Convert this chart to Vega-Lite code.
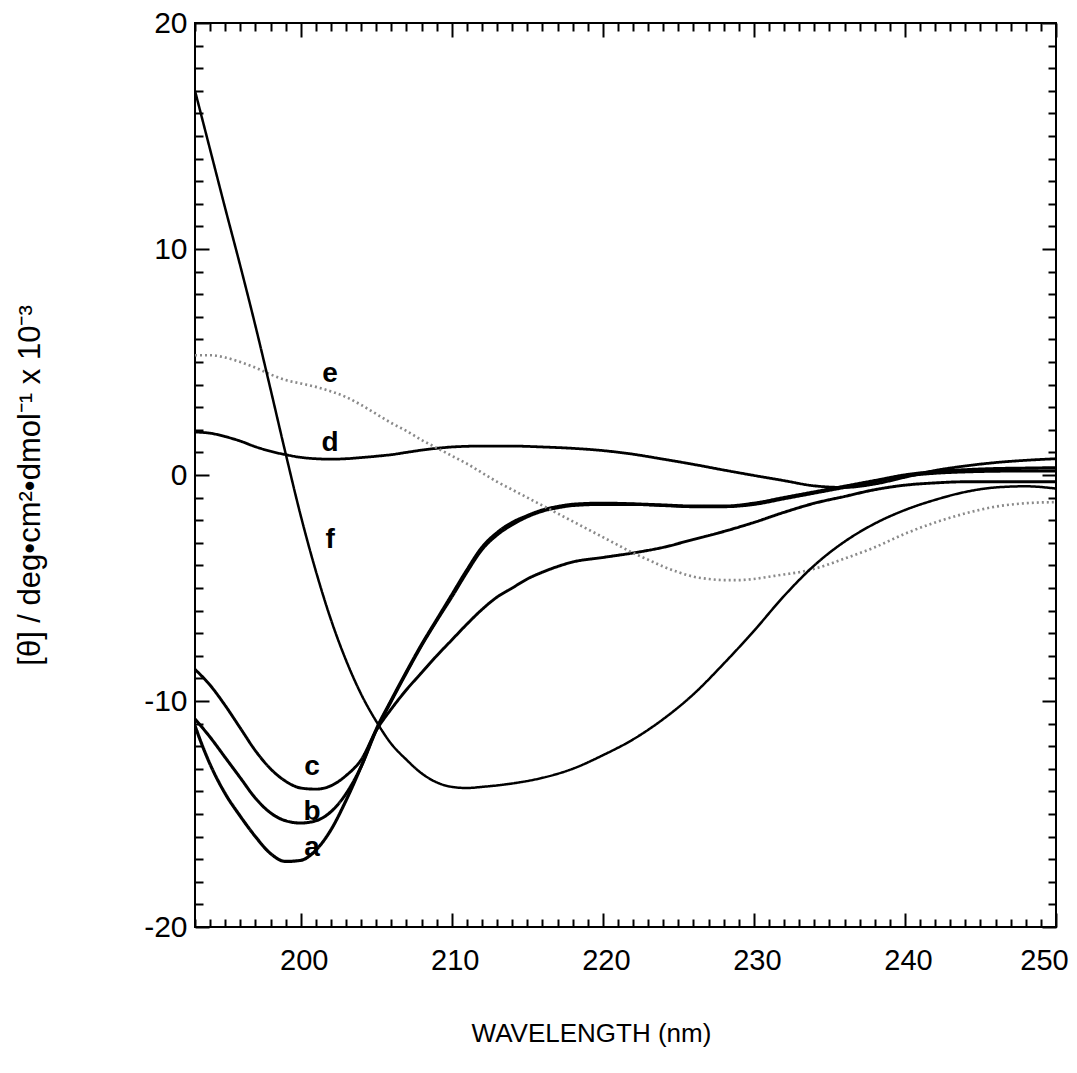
{
  "$schema": "https://vega.github.io/schema/vega-lite/v6.json",
  "autosize": {"type": "none"},
  "width": 861,
  "height": 904,
  "padding": {"left": 195, "top": 23, "right": 21, "bottom": 146},
  "background": "white",
  "config": {
    "view": {"stroke": "black", "strokeWidth": 2},
    "font": "Liberation Sans",
    "axis": {"domain": false, "grid": false, "tickColor": "black", "tickWidth": 2, "labelColor": "black", "titleColor": "black", "labelFont": "Liberation Sans", "titleFont": "Liberation Sans", "titleFontWeight": "normal", "labelOverlap": false, "labelFlush": false}
  },
  "datasets": {
    "curves": [
      {"s":"a","x":193,"y":-11.1},{"s":"a","x":193.5,"y":-12.0},{"s":"a","x":194,"y":-12.8},{"s":"a","x":195,"y":-14.1},{"s":"a","x":196,"y":-15.1},{"s":"a","x":197,"y":-16.0},{"s":"a","x":198,"y":-16.75},{"s":"a","x":199,"y":-17.1},{"s":"a","x":200,"y":-17.05},{"s":"a","x":201,"y":-16.6},{"s":"a","x":202,"y":-15.7},{"s":"a","x":203,"y":-14.4},{"s":"a","x":204,"y":-12.9},{"s":"a","x":205,"y":-11.25},{"s":"a","x":206,"y":-9.95},{"s":"a","x":207,"y":-8.7},{"s":"a","x":208,"y":-7.5},{"s":"a","x":209,"y":-6.4},{"s":"a","x":210,"y":-5.3},{"s":"a","x":211,"y":-4.2},{"s":"a","x":212,"y":-3.2},{"s":"a","x":213,"y":-2.55},{"s":"a","x":214,"y":-2.1},{"s":"a","x":215,"y":-1.8},{"s":"a","x":216,"y":-1.55},{"s":"a","x":217,"y":-1.4},{"s":"a","x":218,"y":-1.3},{"s":"a","x":220,"y":-1.25},{"s":"a","x":222,"y":-1.28},{"s":"a","x":224,"y":-1.33},{"s":"a","x":226,"y":-1.38},{"s":"a","x":228,"y":-1.38},{"s":"a","x":230,"y":-1.25},{"s":"a","x":232,"y":-1.0},{"s":"a","x":234,"y":-0.75},{"s":"a","x":236,"y":-0.5},{"s":"a","x":238,"y":-0.25},{"s":"a","x":240,"y":0.0},{"s":"a","x":242,"y":0.15},{"s":"a","x":244,"y":0.23},{"s":"a","x":246,"y":0.28},{"s":"a","x":248,"y":0.3},{"s":"a","x":250,"y":0.32},
      {"s":"b","x":193,"y":-10.8},{"s":"b","x":194,"y":-11.6},{"s":"b","x":195,"y":-12.5},{"s":"b","x":196,"y":-13.4},{"s":"b","x":197,"y":-14.3},{"s":"b","x":198,"y":-14.95},{"s":"b","x":199,"y":-15.3},{"s":"b","x":200,"y":-15.4},{"s":"b","x":201,"y":-15.3},{"s":"b","x":202,"y":-14.9},{"s":"b","x":203,"y":-14.1},{"s":"b","x":204,"y":-12.9},{"s":"b","x":205,"y":-11.3},{"s":"b","x":206,"y":-10.0},{"s":"b","x":207,"y":-8.75},{"s":"b","x":208,"y":-7.55},{"s":"b","x":209,"y":-6.45},{"s":"b","x":210,"y":-5.4},{"s":"b","x":211,"y":-4.3},{"s":"b","x":212,"y":-3.3},{"s":"b","x":213,"y":-2.65},{"s":"b","x":214,"y":-2.2},{"s":"b","x":215,"y":-1.85},{"s":"b","x":216,"y":-1.6},{"s":"b","x":217,"y":-1.45},{"s":"b","x":218,"y":-1.35},{"s":"b","x":220,"y":-1.3},{"s":"b","x":222,"y":-1.3},{"s":"b","x":224,"y":-1.35},{"s":"b","x":226,"y":-1.4},{"s":"b","x":228,"y":-1.4},{"s":"b","x":230,"y":-1.3},{"s":"b","x":232,"y":-1.05},{"s":"b","x":234,"y":-0.8},{"s":"b","x":236,"y":-0.55},{"s":"b","x":238,"y":-0.3},{"s":"b","x":240,"y":-0.05},{"s":"b","x":242,"y":0.08},{"s":"b","x":244,"y":0.14},{"s":"b","x":246,"y":0.17},{"s":"b","x":248,"y":0.18},{"s":"b","x":250,"y":0.18},
      {"s":"c","x":193,"y":-8.6},{"s":"c","x":194,"y":-9.3},{"s":"c","x":195,"y":-10.2},{"s":"c","x":196,"y":-11.2},{"s":"c","x":197,"y":-12.2},{"s":"c","x":198,"y":-13.0},{"s":"c","x":199,"y":-13.55},{"s":"c","x":200,"y":-13.85},{"s":"c","x":201,"y":-13.9},{"s":"c","x":202,"y":-13.75},{"s":"c","x":203,"y":-13.3},{"s":"c","x":204,"y":-12.6},{"s":"c","x":205,"y":-11.3},{"s":"c","x":206,"y":-10.35},{"s":"c","x":207,"y":-9.5},{"s":"c","x":208,"y":-8.75},{"s":"c","x":209,"y":-8.0},{"s":"c","x":210,"y":-7.3},{"s":"c","x":211,"y":-6.6},{"s":"c","x":212,"y":-5.95},{"s":"c","x":213,"y":-5.4},{"s":"c","x":214,"y":-5.0},{"s":"c","x":215,"y":-4.6},{"s":"c","x":216,"y":-4.3},{"s":"c","x":217,"y":-4.05},{"s":"c","x":218,"y":-3.85},{"s":"c","x":220,"y":-3.65},{"s":"c","x":222,"y":-3.45},{"s":"c","x":224,"y":-3.2},{"s":"c","x":226,"y":-2.85},{"s":"c","x":228,"y":-2.5},{"s":"c","x":230,"y":-2.1},{"s":"c","x":232,"y":-1.65},{"s":"c","x":234,"y":-1.25},{"s":"c","x":236,"y":-0.95},{"s":"c","x":238,"y":-0.65},{"s":"c","x":240,"y":-0.45},{"s":"c","x":242,"y":-0.35},{"s":"c","x":244,"y":-0.3},{"s":"c","x":246,"y":-0.3},{"s":"c","x":248,"y":-0.3},{"s":"c","x":250,"y":-0.3},
      {"s":"d","x":193,"y":1.9},{"s":"d","x":194,"y":1.85},{"s":"d","x":195,"y":1.7},{"s":"d","x":196,"y":1.5},{"s":"d","x":197,"y":1.25},{"s":"d","x":198,"y":1.05},{"s":"d","x":199,"y":0.9},{"s":"d","x":200,"y":0.78},{"s":"d","x":201,"y":0.72},{"s":"d","x":202,"y":0.7},{"s":"d","x":203,"y":0.72},{"s":"d","x":204,"y":0.77},{"s":"d","x":205,"y":0.83},{"s":"d","x":206,"y":0.9},{"s":"d","x":207,"y":1.0},{"s":"d","x":208,"y":1.1},{"s":"d","x":209,"y":1.18},{"s":"d","x":210,"y":1.24},{"s":"d","x":212,"y":1.28},{"s":"d","x":214,"y":1.28},{"s":"d","x":216,"y":1.24},{"s":"d","x":218,"y":1.18},{"s":"d","x":220,"y":1.08},{"s":"d","x":222,"y":0.92},{"s":"d","x":224,"y":0.7},{"s":"d","x":226,"y":0.47},{"s":"d","x":228,"y":0.22},{"s":"d","x":230,"y":-0.02},{"s":"d","x":232,"y":-0.25},{"s":"d","x":234,"y":-0.48},{"s":"d","x":236,"y":-0.55},{"s":"d","x":238,"y":-0.4},{"s":"d","x":240,"y":-0.1},{"s":"d","x":242,"y":0.2},{"s":"d","x":244,"y":0.4},{"s":"d","x":246,"y":0.55},{"s":"d","x":248,"y":0.65},{"s":"d","x":250,"y":0.72},
      {"s":"e","x":193,"y":5.3},{"s":"e","x":194,"y":5.3},{"s":"e","x":195,"y":5.2},{"s":"e","x":196,"y":5.0},{"s":"e","x":197,"y":4.75},{"s":"e","x":198,"y":4.45},{"s":"e","x":199,"y":4.2},{"s":"e","x":200,"y":4.05},{"s":"e","x":201,"y":3.9},{"s":"e","x":202,"y":3.7},{"s":"e","x":203,"y":3.45},{"s":"e","x":204,"y":3.1},{"s":"e","x":205,"y":2.7},{"s":"e","x":206,"y":2.3},{"s":"e","x":207,"y":1.95},{"s":"e","x":208,"y":1.55},{"s":"e","x":209,"y":1.2},{"s":"e","x":210,"y":0.85},{"s":"e","x":211,"y":0.5},{"s":"e","x":212,"y":0.1},{"s":"e","x":213,"y":-0.3},{"s":"e","x":214,"y":-0.65},{"s":"e","x":215,"y":-1.0},{"s":"e","x":216,"y":-1.35},{"s":"e","x":217,"y":-1.7},{"s":"e","x":218,"y":-2.05},{"s":"e","x":219,"y":-2.4},{"s":"e","x":220,"y":-2.75},{"s":"e","x":221,"y":-3.1},{"s":"e","x":222,"y":-3.45},{"s":"e","x":223,"y":-3.75},{"s":"e","x":224,"y":-4.05},{"s":"e","x":225,"y":-4.3},{"s":"e","x":226,"y":-4.5},{"s":"e","x":227,"y":-4.6},{"s":"e","x":228,"y":-4.65},{"s":"e","x":229,"y":-4.65},{"s":"e","x":230,"y":-4.6},{"s":"e","x":231,"y":-4.5},{"s":"e","x":232,"y":-4.4},{"s":"e","x":233,"y":-4.3},{"s":"e","x":234,"y":-4.15},{"s":"e","x":236,"y":-3.7},{"s":"e","x":238,"y":-3.2},{"s":"e","x":240,"y":-2.6},{"s":"e","x":242,"y":-2.1},{"s":"e","x":244,"y":-1.7},{"s":"e","x":246,"y":-1.4},{"s":"e","x":248,"y":-1.25},{"s":"e","x":250,"y":-1.2},
      {"s":"f","x":193,"y":17.0},{"s":"f","x":193.5,"y":15.7},{"s":"f","x":194,"y":14.4},{"s":"f","x":195,"y":11.8},{"s":"f","x":196,"y":9.25},{"s":"f","x":197,"y":6.6},{"s":"f","x":198,"y":3.8},{"s":"f","x":199,"y":0.95},{"s":"f","x":200,"y":-1.8},{"s":"f","x":201,"y":-4.25},{"s":"f","x":202,"y":-6.4},{"s":"f","x":203,"y":-8.2},{"s":"f","x":204,"y":-9.7},{"s":"f","x":205,"y":-10.9},{"s":"f","x":206,"y":-11.9},{"s":"f","x":207,"y":-12.6},{"s":"f","x":208,"y":-13.2},{"s":"f","x":209,"y":-13.6},{"s":"f","x":210,"y":-13.8},{"s":"f","x":211,"y":-13.85},{"s":"f","x":212,"y":-13.8},{"s":"f","x":214,"y":-13.65},{"s":"f","x":216,"y":-13.4},{"s":"f","x":218,"y":-13.0},{"s":"f","x":220,"y":-12.4},{"s":"f","x":222,"y":-11.7},{"s":"f","x":224,"y":-10.8},{"s":"f","x":226,"y":-9.7},{"s":"f","x":228,"y":-8.35},{"s":"f","x":230,"y":-6.9},{"s":"f","x":232,"y":-5.35},{"s":"f","x":234,"y":-4.0},{"s":"f","x":236,"y":-2.95},{"s":"f","x":238,"y":-2.15},{"s":"f","x":240,"y":-1.55},{"s":"f","x":242,"y":-1.1},{"s":"f","x":244,"y":-0.75},{"s":"f","x":246,"y":-0.55},{"s":"f","x":248,"y":-0.5},{"s":"f","x":250,"y":-0.6}
    ],
    "labels": [
      {"s":"a","x":200.75,"y":-16.5},
      {"s":"b","x":200.75,"y":-14.9},
      {"s":"c","x":200.75,"y":-12.9},
      {"s":"d","x":201.94,"y":1.42},
      {"s":"e","x":201.94,"y":4.47},
      {"s":"f","x":201.94,"y":-2.88}
    ]
  },
  "layer": [
    {
      "data": {"name": "curves"},
      "mark": {"type": "line", "interpolate": "monotone", "clip": true},
      "encoding": {
        "x": {"field": "x", "type": "quantitative", "scale": {"domain": [193, 250], "nice": false, "zero": false},
          "axis": {"orient": "bottom",
            "values": [193,194,195,196,197,198,199,200,201,202,203,204,205,206,207,208,209,210,211,212,213,214,215,216,217,218,219,220,221,222,223,224,225,226,227,228,229,230,231,232,233,234,235,236,237,238,239,240,241,242,243,244,245,246,247,248,249,250],
            "labelExpr": "datum.value % 10 === 0 ? datum.label : ''",
            "tickSize": {"condition": {"test": "datum.value % 10 === 0", "value": -14}, "value": -8},
            "labelOffset": {"condition": {"test": "datum.value === 250", "value": -12}, "value": 3},
            "labelFontSize": 29, "labelPadding": 33,
            "title": "WAVELENGTH (nm)", "titleFontSize": 26, "titleX": 396, "titleY": 106, "titleAlign": "center", "titleBaseline": "middle"}},
        "y": {"field": "y", "type": "quantitative", "scale": {"domain": [-20, 20], "nice": false, "zero": false},
          "axis": {"orient": "left",
            "values": [-20,-19,-18,-17,-16,-15,-14,-13,-12,-11,-10,-9,-8,-7,-6,-5,-4,-3,-2,-1,0,1,2,3,4,5,6,7,8,9,10,11,12,13,14,15,16,17,18,19,20],
            "labelExpr": "datum.value % 10 === 0 ? replace(datum.label, '−', '-') : ''",
            "tickSize": {"condition": {"test": "datum.value % 10 === 0", "value": -14}, "value": -8},
            "labelFontSize": 30, "labelPadding": 22,
            "title": "[θ] / deg•cm²•dmol⁻¹ x 10⁻³", "titleFontSize": 31, "titleX": -165, "titleY": 462, "titleAngle": 270, "titleAlign": "center", "titleBaseline": "middle"}},
        "detail": {"field": "s"},
        "color": {"field": "s", "type": "nominal", "legend": null, "scale": {"domain": ["a","b","c","d","e","f"], "range": ["#000000","#000000","#000000","#000000","#8a8a8a","#000000"]}},
        "strokeWidth": {"field": "s", "type": "nominal", "legend": null, "scale": {"domain": ["a","b","c","d","e","f"], "range": [3.2, 2.5, 2.1, 2.8, 1.4, 1.7]}},
        "strokeDash": {"field": "s", "type": "nominal", "legend": null, "scale": {"domain": ["a","b","c","d","e","f"], "range": [[1,0],[1,0],[1,0],[1,0],[2,3],[1,0]]}}
      }
    },
    {
      "mark": {"type": "rule", "color": "black", "strokeWidth": 2},
      "encoding": {"y": {"datum": 0, "type": "quantitative", "axis": null}}
    },
    {
      "data": {"name": "labels"},
      "mark": {"type": "text", "fontSize": 28, "fontWeight": "bold", "font": "Liberation Sans", "color": "black", "align": "center", "baseline": "middle"},
      "encoding": {
        "x": {"field": "x", "type": "quantitative",
          "axis": {"orient": "top", "labels": false, "title": null,
            "values": [193,194,195,196,197,198,199,200,201,202,203,204,205,206,207,208,209,210,211,212,213,214,215,216,217,218,219,220,221,222,223,224,225,226,227,228,229,230,231,232,233,234,235,236,237,238,239,240,241,242,243,244,245,246,247,248,249,250],
            "tickSize": {"condition": {"test": "datum.value % 10 === 0", "value": -14}, "value": -8}}},
        "y": {"field": "y", "type": "quantitative",
          "axis": {"orient": "right", "labels": false, "title": null,
            "values": [-20,-19,-18,-17,-16,-15,-14,-13,-12,-11,-10,-9,-8,-7,-6,-5,-4,-3,-2,-1,0,1,2,3,4,5,6,7,8,9,10,11,12,13,14,15,16,17,18,19,20],
            "tickSize": {"condition": {"test": "datum.value % 10 === 0", "value": -14}, "value": -8}}},
        "text": {"field": "s"}
      }
    }
  ],
  "resolve": {"axis": {"x": "independent", "y": "independent"}}
}
